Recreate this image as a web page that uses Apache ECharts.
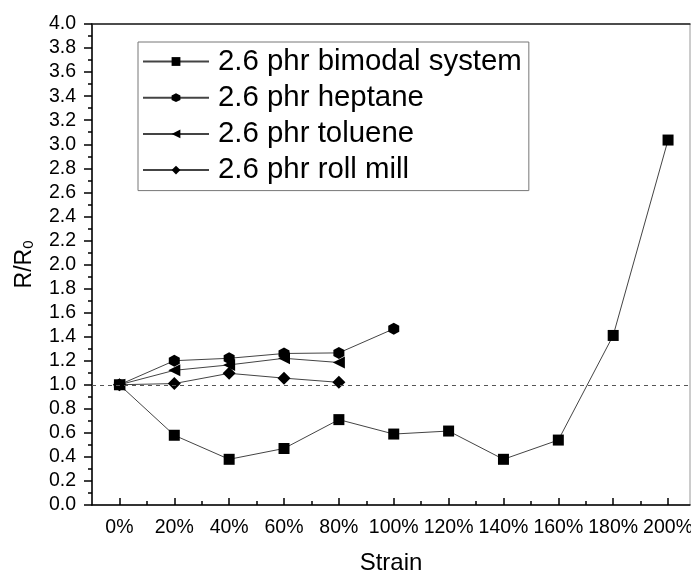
<!DOCTYPE html>
<html>
<head>
<meta charset="utf-8">
<script src="https://cdn.jsdelivr.net/npm/echarts@6/dist/echarts.min.js"></script>
<style>html,body{margin:0;padding:0;background:#fff}#c{width:691px;height:573px}</style>
</head>
<body>
<div id="c"></div>
<script>
var strain = [0, 20, 40, 60, 80, 100, 120, 140, 160, 180, 200];
var bimodal = [1.0, 0.58, 0.38, 0.47, 0.71, 0.59, 0.615, 0.38, 0.54, 1.41, 3.035];
var heptane = [1.0, 1.20, 1.22, 1.26, 1.265, 1.465];
var toluene = [1.0, 1.12, 1.165, 1.22, 1.185];
var rollMill = [1.0, 1.01, 1.095, 1.055, 1.02];
var seriesNames = ['2.6 phr bimodal system', '2.6 phr heptane', '2.6 phr toluene', '2.6 phr roll mill'];
var majorX = [0, 20, 40, 60, 80, 100, 120, 140, 160, 180, 200];
var minorX = [10, 30, 50, 70, 90, 110, 130, 150, 170, 190];

function pairs(vals) { return vals.map(function (v, i) { return [strain[i], v]; }); }

var FONT = 'Liberation Sans, Arial, sans-serif';
var hexagon = 'path://M50 0 L93.3 25 L93.3 75 L50 100 L6.7 75 L6.7 25 Z';
var lineStyle = { color: '#444', width: 1 };

var chart = echarts.init(document.getElementById('c'), null, { renderer: 'canvas' });
chart.setOption({
  animation: false,
  backgroundColor: '#fff',
  grid: { left: 92, right: 1, top: 24, bottom: 68, show: true, borderColor: '#999', borderWidth: 1,
    containLabel: false, outerBoundsMode: 'none' },
  legend: {
    orient: 'vertical',
    left: 138, top: 42,
    padding: [5, 7, 6, 4],
    itemWidth: 66, itemHeight: 11, itemGap: 7.2,
    borderColor: '#777', borderWidth: 1,
    textStyle: { fontFamily: FONT, fontSize: 29.4, color: '#000', padding: [0, 0, 0, 4] },
    data: seriesNames
  },
  xAxis: [{
    type: 'value', min: -10, max: 208,
    name: 'Strain', nameLocation: 'middle', nameGap: 46,
    nameTextStyle: { fontFamily: FONT, fontSize: 24, color: '#000' },
    axisLine: { onZero: false, lineStyle: { color: '#000', width: 1.5 } },
    axisTick: { inside: true, length: 7, customValues: majorX, lineStyle: { color: '#000', width: 1.5 } },
    axisLabel: { customValues: majorX, formatter: function (v) { return v + '%'; }, fontFamily: FONT, fontSize: 19.5, color: '#000', margin: 13 },
    splitLine: { show: false }
  }, {
    type: 'value', min: -10, max: 208, position: 'bottom',
    axisLine: { show: false, onZero: false },
    axisTick: { inside: true, length: 4, customValues: minorX, lineStyle: { color: '#000', width: 1.5 } },
    axisLabel: { show: false },
    splitLine: { show: false }
  }, {
    type: 'value', min: -10, max: 208, position: 'top',
    axisLine: { onZero: false, lineStyle: { color: '#222', width: 1.5 } },
    axisTick: { show: false }, axisLabel: { show: false }, splitLine: { show: false }
  }],
  yAxis: {
    type: 'value', min: 0, max: 4, interval: 0.2,
    name: 'R/R{sub|0}', nameLocation: 'middle', nameGap: 56, nameRotate: 90,
    nameTextStyle: { fontFamily: FONT, fontSize: 23, color: '#000',
      rich: { sub: { fontFamily: FONT, fontSize: 15, color: '#000', verticalAlign: 'bottom', padding: [8, 0, 0, 0] } } },
    axisLine: { onZero: false, lineStyle: { color: '#000', width: 1.5 } },
    axisTick: { inside: false, length: 8, lineStyle: { color: '#000', width: 1.5 } },
    minorTick: { show: true, splitNumber: 2, length: 4, lineStyle: { color: '#000', width: 1.5 } },
    axisLabel: { formatter: function (v) { return v.toFixed(1); }, fontFamily: FONT, fontSize: 19.5, color: '#000', margin: 16 },
    splitLine: { show: false }
  },
  series: [{
    name: seriesNames[0], type: 'line', data: pairs(bimodal),
    symbol: 'rect', symbolSize: 11, itemStyle: { color: '#000' }, lineStyle: lineStyle,
    markLine: { silent: true, symbol: 'none', label: { show: false },
      lineStyle: { color: '#555', type: [4, 4], width: 1 }, data: [{ yAxis: 1 }] }
  }, {
    name: seriesNames[1], type: 'line', data: pairs(heptane),
    symbol: hexagon, symbolSize: [11, 12], itemStyle: { color: '#000' }, lineStyle: lineStyle
  }, {
    name: seriesNames[2], type: 'line', data: pairs(toluene),
    symbol: 'triangle', symbolRotate: 90, symbolSize: 12, itemStyle: { color: '#000' }, lineStyle: lineStyle
  }, {
    name: seriesNames[3], type: 'line', data: pairs(rollMill),
    symbol: 'diamond', symbolSize: 13, itemStyle: { color: '#000' }, lineStyle: lineStyle
  }]
});
</script>
</body>
</html>
